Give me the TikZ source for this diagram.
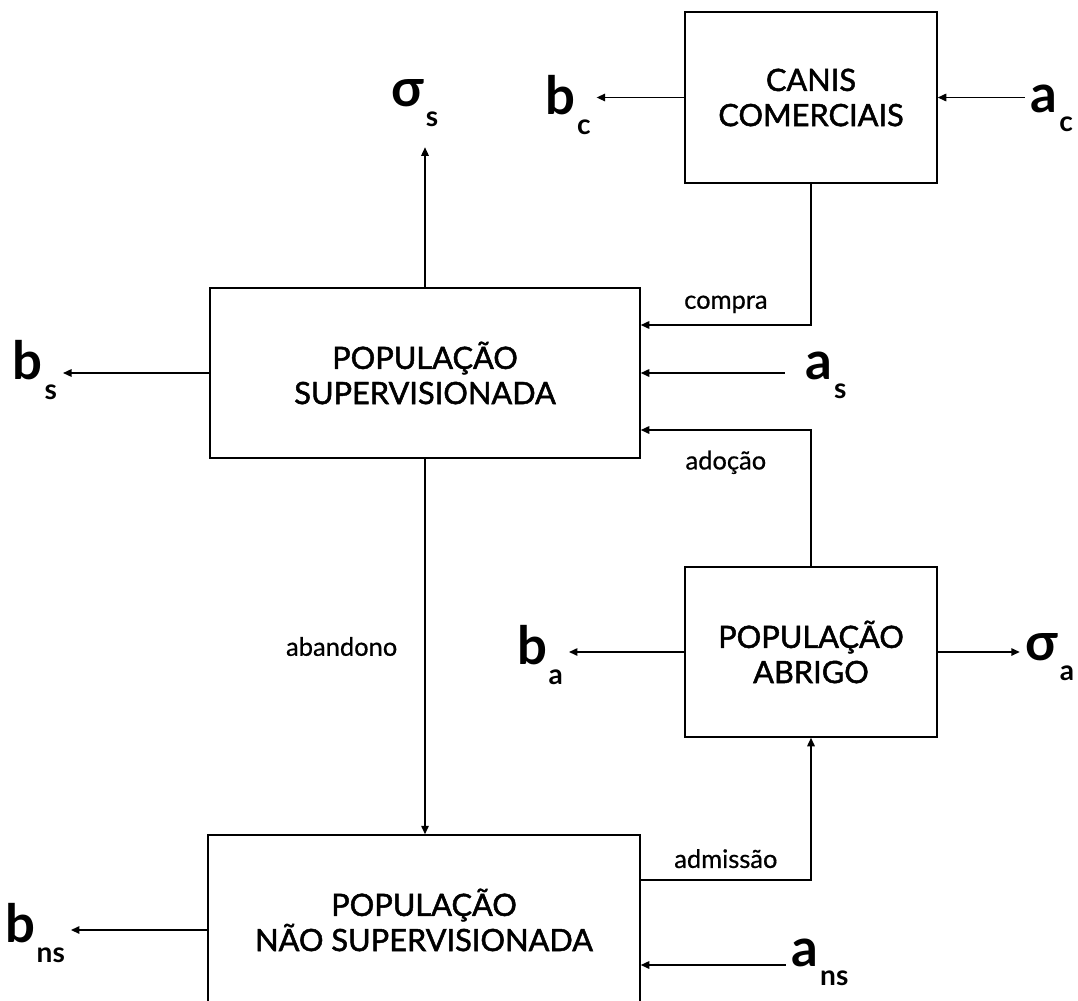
\documentclass[tikz,border=0pt]{standalone}
\usepackage{fontspec}
\setmainfont{Lato}
\newfontfamily\boxfont[FakeBold=1.6]{Lato}
\newfontfamily\smallfont[FakeBold=0.6]{Lato}
\usetikzlibrary{arrows.meta,positioning}
\newcommand{\flux}[2]{#1\kern1pt\raisebox{-11pt}{\fontsize{16}{16}\selectfont #2}}
\begin{document}
\begin{tikzpicture}[>={Triangle[length=1.7mm,width=1.5mm]}, line width=0.85pt,
  small/.style={font=\smallfont\fontsize{14.5}{16}\selectfont}]
\useasboundingbox (0,0) rectangle (21.56,-20);
% caixas
\begin{scope}[every node/.style={draw,align=center,font=\boxfont\fontsize{17.5}{20}\selectfont,minimum height=3.4cm}]
  \node[minimum width=5.04cm,minimum height=3.42cm] (canis) at (16.22,-1.95) {CANIS\\COMERCIAIS};
  \node[minimum width=8.6cm] (sup) at (8.5,-7.46) {POPULAÇÃO\\SUPERVISIONADA};
  \node[minimum width=5.04cm] (abrigo) at (16.22,-13.04) {POPULAÇÃO\\ABRIGO};
  \node[minimum width=8.64cm] (nsup) at (8.48,-18.4) {POPULAÇÃO\\NÃO SUPERVISIONADA};
\end{scope}
% taxas
\begin{scope}[every node/.style={font=\fontsize{30}{30}\bfseries,inner sep=3pt}]
  \node (bs) at (0.7,-7.4) {\flux{b}{s}};
  \node (sigmas) at (8.3,-2.06) {\flux{σ}{s}};
  \node (bc) at (11.36,-2.1) {\flux{b}{c}};
  \node (ac) at (21.04,-2.16) {\flux{a}{c}};
  \node (as) at (16.52,-7.5) {\flux{a}{s}};
  \node (ba) at (10.8,-13.1) {\flux{b}{a}};
  \node (sigmaa) at (21.0,-13.14) {\flux{σ}{a}};
  \node (bns) at (0.7,-18.66) {\flux{b}{ns}};
  \node (ans) at (16.4,-19.24) {\flux{a}{ns}};
\end{scope}
\path ([yshift=-0.9cm]nsup.east) coordinate (nsin);
% fluxos
\draw[->] (sup.west) -- (sup.west -| bs.east);
\draw[->,shorten >=0.3cm] (sup.north) -- (sup.north |- sigmas.south);
\draw[->] (canis.west) -- (canis.west -| bc.east);
\draw[->] (ac.west |- canis.east) -- (canis.east);
\draw[->] (canis.south) |- ([yshift=0.96cm]sup.east) node[pos=0.75,above=3pt,small] {compra};
\draw[->,shorten <=0.3cm] (as.west |- sup.east) -- (sup.east);
\draw[->] (abrigo.north) |- ([yshift=-1.14cm]sup.east) node[pos=0.75,below=8pt,small] {adoção};
\draw[->] (sup.south) -- (sup.south |- nsup.north) node[midway,left=12pt,small] {abandono};
\draw[->] (abrigo.west) -- (abrigo.west -| ba.east);
\draw[->] (abrigo.east) -- (abrigo.east -| sigmaa.west);
\draw[->] ([yshift=0.8cm]nsup.east) -| (abrigo.south) node[pos=0.25,above=3pt,small] {admissão};
\draw[->] ([yshift=-0.2cm]nsup.west) -- ([yshift=-0.2cm]nsup.west -| bns.east);
\draw[->] (nsin -| ans.west) -- (nsin);
\end{tikzpicture}
\end{document}
